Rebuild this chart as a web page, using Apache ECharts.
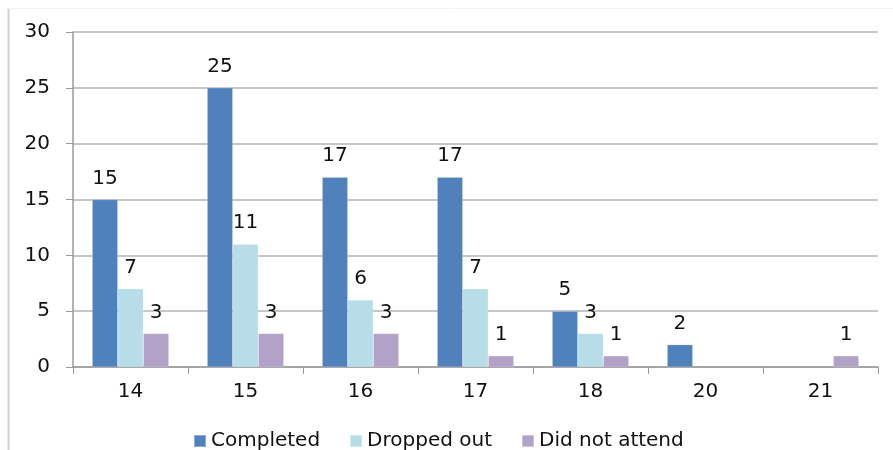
<!DOCTYPE html>
<html>
<head>
<meta charset="utf-8">
<script src="https://cdn.jsdelivr.net/npm/echarts@6/dist/echarts.min.js"></script>
<style>html,body{margin:0;padding:0;background:#fff;}#c{width:893px;height:450px;}</style>
</head>
<body>
<div id="c"></div>
<script>
var categories = ['14', '15', '16', '17', '18', '20', '21'];
var completed = [15, 25, 17, 17, 5, 2, null];
var droppedOut = [7, 11, 6, 7, 3, null, null];
var didNotAttend = [3, 3, 3, 1, 1, null, 1];
var seriesNames = ['Completed', 'Dropped out', 'Did not attend'];
var yTicks = [0, 5, 10, 15, 20, 25, 30];

var font = 'DejaVu Sans, sans-serif';
var chart = echarts.init(document.getElementById('c'));
function mk(name, data, color) {
  return {
    name: name, type: 'bar', data: data, barWidth: '22.2%', barGap: '0%',
    itemStyle: { color: color, borderColor: 'rgba(255,255,255,0.35)', borderWidth: 0.5 },
    label: { show: true, position: 'top', distance: 11, color: '#111', fontSize: 20, fontFamily: font }
  };
}
chart.setOption({
  animation: false,
  graphic: [
    { type: 'line', shape: { x1: 8.5, y1: 8, x2: 8.5, y2: 450 }, style: { stroke: '#cfcfcf', lineWidth: 2 } },
    { type: 'line', shape: { x1: 8, y1: 8.5, x2: 893, y2: 8.5 }, style: { stroke: '#f2f2f2', lineWidth: 1 } }
  ],
  grid: { left: 73, right: 15, top: 32, bottom: 83 },
  legend: {
    data: seriesNames, left: 188, top: 426, itemWidth: 12, itemHeight: 12, itemGap: 29,
    icon: 'rect', textStyle: { fontSize: 20, fontFamily: font, color: '#111' }
  },
  xAxis: {
    type: 'category', data: categories,
    axisLine: { lineStyle: { color: '#9a9a9a', width: 1.5 } },
    axisTick: { show: true, length: 7, alignWithLabel: false, lineStyle: { color: '#9a9a9a' } },
    axisLabel: { fontSize: 20, fontFamily: font, color: '#111', margin: 15 }
  },
  yAxis: {
    type: 'value', min: 0, max: 30, interval: 5,
    axisLine: { show: true, lineStyle: { color: '#9a9a9a', width: 1.5 } },
    axisTick: { show: true, length: 7, inside: false, lineStyle: { color: '#9a9a9a' } },
    axisLabel: { fontSize: 20, fontFamily: font, color: '#111', margin: 23,
      formatter: function (v) { return yTicks.indexOf(v) >= 0 ? String(v) : ''; } },
    splitLine: { lineStyle: { color: '#b4b4b4', width: 1.5 } }
  },
  series: [
    mk(seriesNames[0], completed, '#4F81BD'),
    mk(seriesNames[1], droppedOut, '#B7DEE8'),
    mk(seriesNames[2], didNotAttend, '#B2A2C7')
  ]
});
</script>
</body>
</html>
